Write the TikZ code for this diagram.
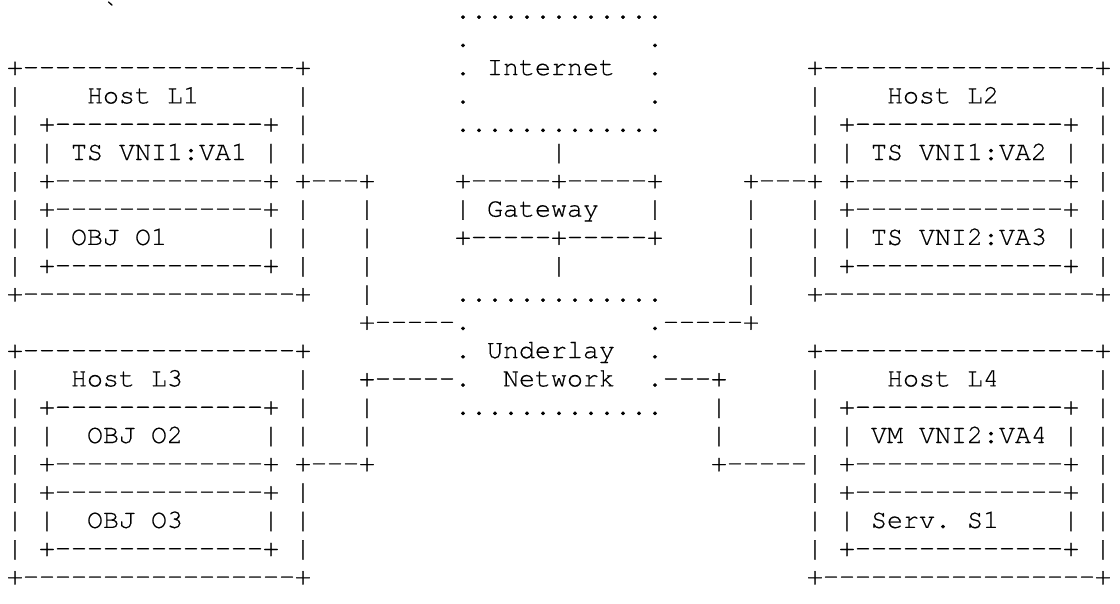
\documentclass[tikz,border=0pt]{standalone}
\usepackage{fontspec}
\setmonofont{texgyrecursor-regular.otf}[FakeBold=0.4]
\newcommand\gap[1]{\hspace*{#1\fontdimen2\font}}
\tikzset{
  rowtxt/.style={anchor=base west, inner sep=0pt, outer sep=0pt,
    font=\ttfamily\fontsize{20}{20}\selectfont\frenchspacing, text=black}
}
\begin{document}
\begin{tikzpicture}[x=0.75pt,y=-0.75pt]
\useasboundingbox (0,0) rectangle (1120,603);
\def\bz{18.5}\def\pt{28.3}
\node[rowtxt, text height=12pt] (r0)  at (7,{\bz+0*\pt})  {\gap{6}`\gap{21}.............};
\node[rowtxt] (r1)  at (7,{\bz+1*\pt})  {\gap{28}.\gap{11}.};
\node[rowtxt] (r2)  at (7,{\bz+2*\pt})  {+-----------------+\gap{9}.~Internet\gap{2}.\gap{9}+-----------------+};
\node[rowtxt] (r3)  at (7,{\bz+3*\pt})  {|\gap{4}Host~L1\gap{6}|\gap{9}.\gap{11}.\gap{9}|\gap{4}Host~L2\gap{6}|};
\node[rowtxt] (r4)  at (7,{\bz+4*\pt})  {|~+-------------+~|\gap{9}.............\gap{9}|~+-------------+~|};
\node[rowtxt] (r5)  at (7,{\bz+5*\pt})  {|~|~TS~VNI1:VA1~|~|\gap{15}|\gap{15}|~|~TS~VNI1:VA2~|~|};
\node[rowtxt] (r6)  at (7,{\bz+6*\pt})  {|~+-------------+~+---+\gap{5}+-----+-----+\gap{5}+---+~+-------------+~|};
\node[rowtxt] (r7)  at (7,{\bz+7*\pt})  {|~+-------------+~|\gap{3}|\gap{5}|~Gateway\gap{3}|\gap{5}|\gap{3}|~+-------------+~|};
\node[rowtxt] (r8)  at (7,{\bz+8*\pt})  {|~|~OBJ~O1\gap{6}|~|\gap{3}|\gap{5}+-----+-----+\gap{5}|\gap{3}|~|~TS~VNI2:VA3~|~|};
\node[rowtxt] (r9)  at (7,{\bz+9*\pt})  {|~+-------------+~|\gap{3}|\gap{11}|\gap{11}|\gap{3}|~+-------------+~|};
\node[rowtxt] (r10) at (7,{\bz+10*\pt}) {+-----------------+\gap{3}|\gap{5}.............\gap{5}|\gap{3}+-----------------+};
\node[rowtxt] (r11) at (7,{\bz+11*\pt}) {\gap{22}+-----.\gap{11}.-----+};
\node[rowtxt] (r12) at (7,{\bz+12*\pt}) {+-----------------+\gap{9}.~Underlay\gap{2}.\gap{9}+-----------------+};
\node[rowtxt] (r13) at (7,{\bz+13*\pt}) {|\gap{3}Host~L3\gap{7}|\gap{3}+-----.\gap{2}Network\gap{2}.---+\gap{5}|\gap{4}Host~L4\gap{6}|};
\node[rowtxt] (r14) at (7,{\bz+14*\pt}) {|~+-------------+~|\gap{3}|\gap{5}.............\gap{3}|\gap{5}|~+-------------+~|};
\node[rowtxt] (r15) at (7,{\bz+15*\pt}) {|~|\gap{2}OBJ~O2\gap{5}|~|\gap{3}|\gap{21}|\gap{5}|~|~VM~VNI2:VA4~|~|};
\node[rowtxt] (r16) at (7,{\bz+16*\pt}) {|~+-------------+~+---+\gap{21}+-----|~+-------------+~|};
\node[rowtxt] (r17) at (7,{\bz+17*\pt}) {|~+-------------+~|\gap{31}|~+-------------+~|};
\node[rowtxt] (r18) at (7,{\bz+18*\pt}) {|~|\gap{2}OBJ~O3\gap{5}|~|\gap{31}|~|~Serv.~S1\gap{4}|~|};
\node[rowtxt] (r19) at (7,{\bz+19*\pt}) {|~+-------------+~|\gap{31}|~+-------------+~|};
\node[rowtxt] (r20) at (7,{\bz+20*\pt}) {+-----------------+\gap{31}+-----------------+};
\end{tikzpicture}
\end{document}
